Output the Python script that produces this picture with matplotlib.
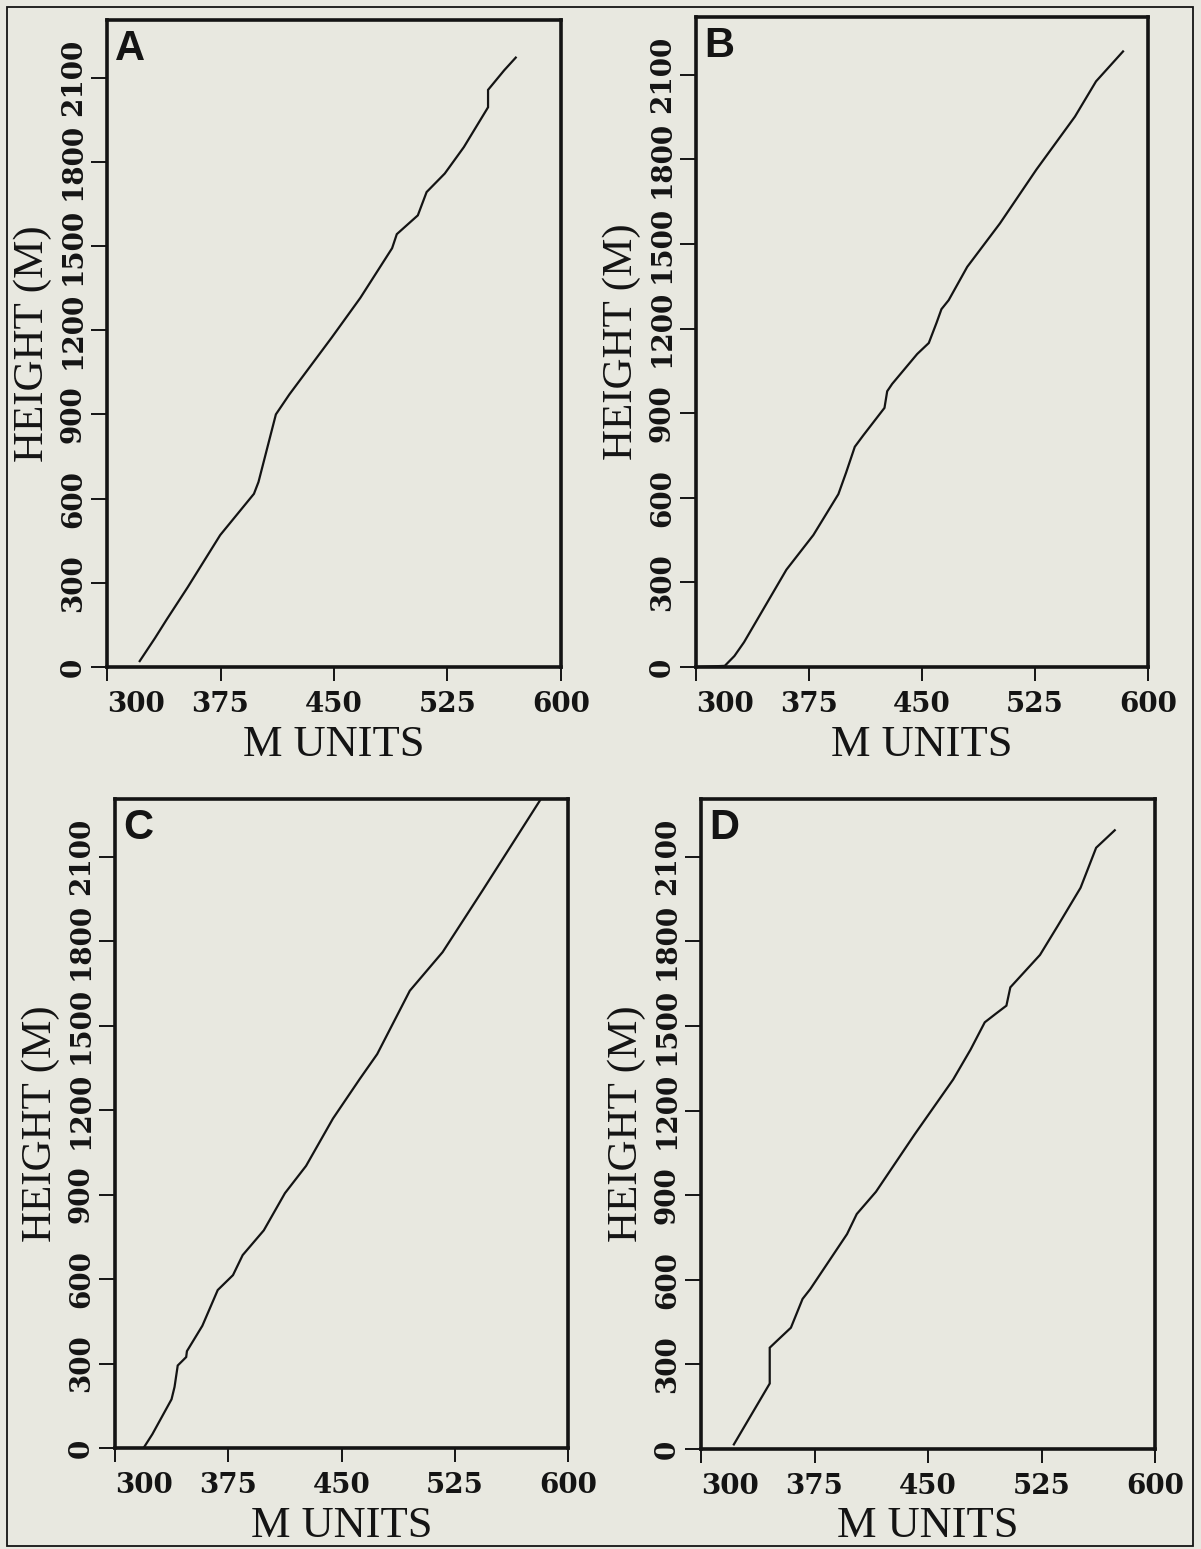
"""Four panels of height against M units (A-D)."""

import matplotlib
matplotlib.use('Agg')
import matplotlib.pyplot as plt
from matplotlib.patches import Rectangle


# Panel A
a_munits = [321.6, 331.7, 339.3, 353.3, 374.8, 397.1, 400.1, 411.6, 420.5,
            448.4, 467.4, 488.4, 491.5, 505.4, 511.2, 523.2, 535.8, 551.8,
            551.8, 562.5, 570.1]
a_height = [21, 103, 168, 284, 470, 617, 659, 900, 971,
            1173, 1315, 1492, 1542, 1609, 1692, 1758, 1852, 1994,
            2056, 2126, 2171]

# Panel B
b_munits = [300.0, 319.1, 325.5, 331.9, 360.0, 377.9, 394.5, 399.6, 405.4,
            411.1, 425.1, 426.9, 430.2, 446.8, 454.5, 459.6, 462.9, 467.7,
            480.0, 501.7, 525.9, 551.5, 565.5, 583.4]
b_height = [0, 4, 39, 88, 345, 468, 613, 689, 781,
            822, 919, 978, 1004, 1110, 1149, 1220, 1269, 1301,
            1419, 1573, 1764, 1952, 2077, 2183]

# Panel C
c_munits = [319.1, 324.7, 337.4, 339.4, 341.5, 344.5, 347.1, 347.6, 357.8,
            368.0, 378.1, 384.5, 398.5, 412.5, 426.5, 444.3, 462.1, 473.6,
            495.2, 516.9, 543.6, 582.0]
c_height = [2, 49, 173, 217, 293, 309, 323, 344, 434,
            561, 614, 685, 773, 905, 1002, 1170, 1311, 1399,
            1624, 1761, 1982, 2305]

# Panel D
d_munits = [321.7, 345.4, 345.4, 350.5, 359.4, 367.1, 372.2, 396.5, 402.9,
            415.6, 441.1, 466.6, 478.1, 487.5, 494.7, 501.8, 504.4, 524.0,
            535.5, 550.8, 561.1, 573.4]
d_height = [16, 232, 359, 385, 430, 532, 567, 762, 833,
            912, 1115, 1310, 1416, 1513, 1543, 1572, 1637, 1752,
            1853, 1990, 2132, 2194]

x_ticks = [300, 375, 450, 525, 600]
y_ticks = [0, 300, 600, 900, 1200, 1500, 1800, 2100]
panel_letters = ['A', 'B', 'C', 'D']

BG = '#e8e8e0'
INK = '#141414'


def DrawPanel(fig, rect, letter, munits, height):
  ax = fig.add_axes(rect)
  ax.set_facecolor(BG)
  ax.plot(munits, height, color=INK, linewidth=1.6, solid_joinstyle='miter')
  ax.set_xlim(300, 600)
  ax.set_ylim(0, 2305)
  for spine in ax.spines.values():
    spine.set_linewidth(2.6)
    spine.set_color(INK)
  ax.set_xticks(x_ticks, [str(t) for t in x_ticks])
  ax.set_yticks(y_ticks, [str(t) for t in y_ticks])
  ax.tick_params(direction='out', width=1.4, color=INK, labelcolor=INK,
                 labelsize=20)
  ax.tick_params(axis='x', length=10, pad=7)
  ax.tick_params(axis='y', length=11.5, pad=3)
  for label in ax.get_xticklabels() + ax.get_yticklabels():
    label.set_family('DejaVu Serif')
    label.set_fontweight('bold')
  for label in ax.get_yticklabels():
    label.set_rotation(90)
    label.set_va('center')
  ax.xaxis.get_major_ticks()[0].label1.set_horizontalalignment('left')
  ax.set_xlabel('M UNITS', family='Liberation Serif', fontsize=32,
                color=INK, labelpad=5)
  ax.set_ylabel('HEIGHT (M)', family='Liberation Serif', fontsize=31,
                color=INK, labelpad=6)
  ax.text(0.018, 0.986, letter, transform=ax.transAxes, ha='left', va='top',
          family='Liberation Sans', fontweight='bold', fontsize=30,
          color=INK)
  return ax


def main():
  fig = plt.figure(figsize=(12.01, 15.49), dpi=100, facecolor=BG)
  rects = [
      [0.0891, 0.5694, 0.3780, 0.4177],
      [0.5795, 0.5694, 0.3764, 0.4196],
      [0.0958, 0.0652, 0.3772, 0.4190],
      [0.5837, 0.0646, 0.3780, 0.4196],
  ]
  series = [(a_munits, a_height), (b_munits, b_height),
            (c_munits, c_height), (d_munits, d_height)]
  for rect, letter, (munits, height) in zip(rects, panel_letters, series):
    DrawPanel(fig, rect, letter, munits, height)

  # thin frame round the whole page
  fig.patches.append(Rectangle((7 / 1201, 1 - 1546 / 1549),
                               1186 / 1201, 1539 / 1549,
                               transform=fig.transFigure, fill=False,
                               edgecolor=INK, linewidth=1.3))
  fig.savefig('out.png', dpi=100, facecolor=BG)


if __name__ == '__main__':
  main()
